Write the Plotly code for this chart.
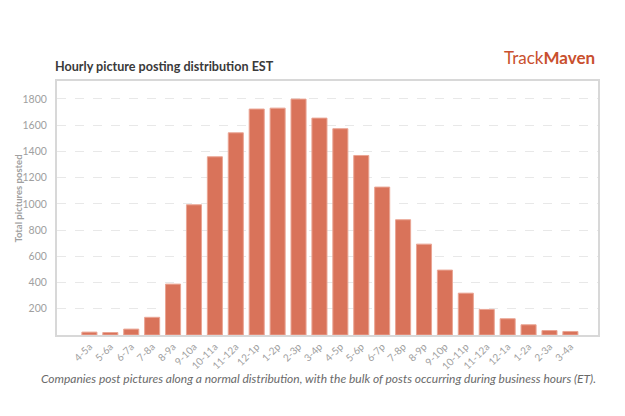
import plotly.graph_objects as go

hours = ["4-5a", "5-6a", "6-7a", "7-8a", "8-9a", "9-10a", "10-11a", "11-12a",
         "12-1p", "1-2p", "2-3p", "3-4p", "4-5p", "5-6p", "6-7p", "7-8p",
         "8-9p", "9-10p", "10-11p", "11-12a", "12-1a", "1-2a", "2-3a", "3-4a"]
pictures = [22, 19, 45, 135, 388, 993, 1359, 1542,
            1723, 1730, 1799, 1654, 1573, 1369, 1128, 879,
            693, 495, 319, 195, 124, 78, 34, 27]
y_ticks = [200, 400, 600, 800, 1000, 1200, 1400, 1600, 1800]

positions = list(range(len(hours)))

BAR = "#d9735a"
GRAY = "#a0a0a0"
FONT = "Lato"

fig = go.Figure(go.Bar(
    x=positions, y=pictures, width=0.72,
    marker=dict(color=BAR, line=dict(color="#eaa594", width=1)),
    hoverinfo="y",
))

fig.update_layout(
    width=625, height=416,
    margin=dict(l=57, r=27, t=81, b=81),
    paper_bgcolor="white", plot_bgcolor="white",
    showlegend=False,
    font=dict(family=FONT, color=GRAY),
    annotations=[
        dict(text="<b>Hourly picture posting distribution EST</b>",
             xref="paper", yref="paper", x=0, y=1, xanchor="left", yanchor="bottom",
             yshift=5, xshift=-4, showarrow=False,
             font=dict(family=FONT, size=12.6, color="#3a3a3a")),
        dict(text="Track<b>Maven</b>",
             xref="paper", yref="paper", x=1, y=1, xanchor="right", yanchor="bottom",
             yshift=11, xshift=-1, showarrow=False,
             font=dict(family=FONT, size=17, color="#c9502e")),
        dict(text="<i>Companies post pictures along a normal distribution, with the bulk of posts occurring during business hours (ET).</i>",
             xref="paper", yref="paper", x=0.5, y=0, xanchor="center", yanchor="top",
             yshift=-34, xshift=-9, showarrow=False,
             font=dict(family=FONT, size=12, color="#6a6a6a")),
        dict(text="<b>Total pictures posted</b>", textangle=-90,
             xref="paper", yref="paper", x=0, y=0.535,
             xanchor="right", yanchor="middle", xshift=-31, showarrow=False,
             font=dict(family=FONT, size=9.5, color=GRAY)),
    ],
)

fig.update_xaxes(
    range=[-1.55, 24.32],
    tickmode="array", tickvals=positions, ticktext=hours,
    tickangle=-45, tickfont=dict(size=10, color=GRAY),
    showgrid=False, zeroline=False,
    showline=True, linecolor="#d8d8d8", linewidth=2, mirror=True,
    ticks="",
)
fig.update_yaxes(
    range=[0, 1937],
    tickmode="array", tickvals=y_ticks,
    tickfont=dict(size=10.5, color=GRAY),
    showgrid=True, gridcolor="#e8e8e8", griddash="dash", gridwidth=1,
    zeroline=False,
    showline=True, linecolor="#d8d8d8", linewidth=2, mirror=True,
    ticks="", ticklabelstandoff=6,
)

fig.write_html("out.html")
